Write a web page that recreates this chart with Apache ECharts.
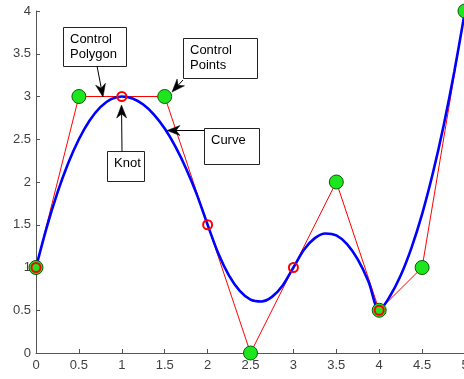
<!DOCTYPE html>
<html>
<head>
<meta charset="utf-8">
<script src="https://cdn.jsdelivr.net/npm/echarts@6/dist/echarts.min.js"></script>
<style>html,body{margin:0;padding:0;background:#fff}#c{width:464px;height:379px}</style>
</head>
<body>
<div id="c"></div>
<script>
// Control polygon (x, y)
var polygonX = [0, 0.5, 1, 1.5, 2, 2.5, 3, 3.5, 4, 4.5, 5];
var polygonY = [1, 3, 3, 3, 1.5, 0, 1, 2, 0.5, 1, 4];
// Control points (green)
var ctrlX = [0, 0.5, 1.5, 2.5, 3.5, 4, 4.5, 5];
var ctrlY = [1, 3, 3, 0, 2, 0.5, 1, 4];
// Knots (red rings)
var knotX = [0, 1, 2, 3, 4];
var knotY = [1, 3, 1.5, 1, 0.5];
// Curve samples
var curveX = [0,0.125,0.25,0.375,0.5,0.625,0.75,0.875,1,1.125,1.25,1.375,1.5,1.625,1.75,1.875,2,2.125,2.25,2.375,2.5,2.625,2.75,2.875,3,3.125,3.25,3.375,3.5,3.625,3.75,3.875,4,4.125,4.25,4.375,4.5,4.625,4.75,4.875,5];
var curveY = [1,1.469,1.875,2.219,2.5,2.719,2.875,2.969,3,2.977,2.906,2.789,2.625,2.414,2.156,1.852,1.5,1.164,0.906,0.727,0.625,0.602,0.656,0.789,1,1.211,1.344,1.398,1.375,1.273,1.094,0.836,0.5,0.664,0.906,1.227,1.625,2.102,2.656,3.289,4];
var xTicks = [0, 0.5, 1, 1.5, 2, 2.5, 3, 3.5, 4, 4.5, 5];
var yTicks = [0, 0.5, 1, 1.5, 2, 2.5, 3, 3.5, 4];

function zip(a, b) { return a.map(function (v, i) { return [v, b[i]]; }); }

var chart = echarts.init(document.getElementById('c'), null, {renderer: 'canvas'});
var font = '"Liberation Sans", Arial, Helvetica, sans-serif';
chart.setOption({
  animation: false,
  backgroundColor: '#fff',
  grid: {left: 36, top: 11, width: 429, height: 342, containLabel: false, outerBoundsMode: 'none'},
  xAxis: {
    type: 'value', min: 0, max: 5, interval: 0.5,
    axisLine: {onZero: false, lineStyle: {color: '#555', width: 1}},
    axisTick: {inside: true, length: 4, lineStyle: {color: '#555'}},
    axisLabel: {color: '#404040', fontSize: 13, fontFamily: font, margin: 6, hideOverlap: false,
      formatter: function (v) { return xTicks.indexOf(v) >= 0 ? String(v) : ''; }},
    splitLine: {show: false}
  },
  yAxis: {
    type: 'value', min: 0, max: 4, interval: 0.5,
    axisLine: {show: true, onZero: false, lineStyle: {color: '#555', width: 1}},
    axisTick: {show: true, inside: true, length: 4, lineStyle: {color: '#555'}},
    axisLabel: {color: '#404040', fontSize: 13, fontFamily: font, margin: 5,
      formatter: function (v) { return yTicks.indexOf(v) >= 0 ? String(v) : ''; }},
    splitLine: {show: false}
  },
  series: [
    {type: 'line', data: zip(polygonX, polygonY), showSymbol: false, symbol: 'none',
     lineStyle: {color: '#ff0000', width: 1}, z: 2},
    {type: 'line', data: zip(curveX, curveY), showSymbol: false, symbol: 'none', smooth: 0.3,
     lineStyle: {color: '#0000ff', width: 2.6}, z: 3},
    {type: 'scatter', data: zip(ctrlX, ctrlY), symbol: 'circle', symbolSize: 14,
     itemStyle: {color: '#1ee61e', borderColor: '#0b5a0b', borderWidth: 1, opacity: 1}, z: 4},
    {type: 'scatter', data: zip(knotX, knotY), symbol: 'circle', symbolSize: 9,
     itemStyle: {color: 'rgba(0,0,0,0)', borderColor: '#ff0000', borderWidth: 2, opacity: 1}, z: 5}
  ]
});

// Annotations (pixel layout)
var notes = [
  {lines: ['Control', 'Polygon'], box: [63, 27, 63, 39], tail: [97, 66], tip: [103, 97]},
  {lines: ['Control', 'Points'], box: [183, 38, 74, 40], tail: [183, 80], tip: [172, 92]},
  {lines: ['Curve'], box: [204, 128, 55, 36], tail: [204, 130.5], tip: [167, 130.5]},
  {lines: ['Knot'], box: [107, 151, 37, 30], tail: [122, 151], tip: [121.5, 105]}
];
var els = [];
notes.forEach(function (n) {
  var b = n.box;
  els.push({type: 'rect', shape: {x: b[0] + 0.5, y: b[1] + 0.5, width: b[2], height: b[3]},
    style: {fill: '#fff', stroke: '#222', lineWidth: 1}, z: 100});
  els.push({type: 'text', x: b[0] + 7, y: b[1] + 5,
    style: {text: n.lines.join('\n'), font: '13px ' + font, fill: '#000', lineHeight: 15, textVerticalAlign: 'top'}, z: 101});
  var dx = n.tip[0] - n.tail[0], dy = n.tip[1] - n.tail[1];
  var L = Math.sqrt(dx * dx + dy * dy), ux = dx / L, uy = dy / L, px = -uy, py = ux;
  var hl = 13, hw = 5, notch = 9;
  var bx = n.tip[0] - ux * hl, by = n.tip[1] - uy * hl;
  var nx = n.tip[0] - ux * notch, ny = n.tip[1] - uy * notch;
  els.push({type: 'line', shape: {x1: n.tail[0], y1: n.tail[1], x2: nx, y2: ny},
    style: {stroke: '#000', lineWidth: 1}, z: 100});
  els.push({type: 'polygon', shape: {points: [n.tip, [bx + px * hw, by + py * hw], [nx, ny], [bx - px * hw, by - py * hw]]},
    style: {fill: '#000', stroke: '#000', lineWidth: 0.5}, z: 100});
});
chart.setOption({graphic: {elements: els}});
</script>
</body>
</html>
